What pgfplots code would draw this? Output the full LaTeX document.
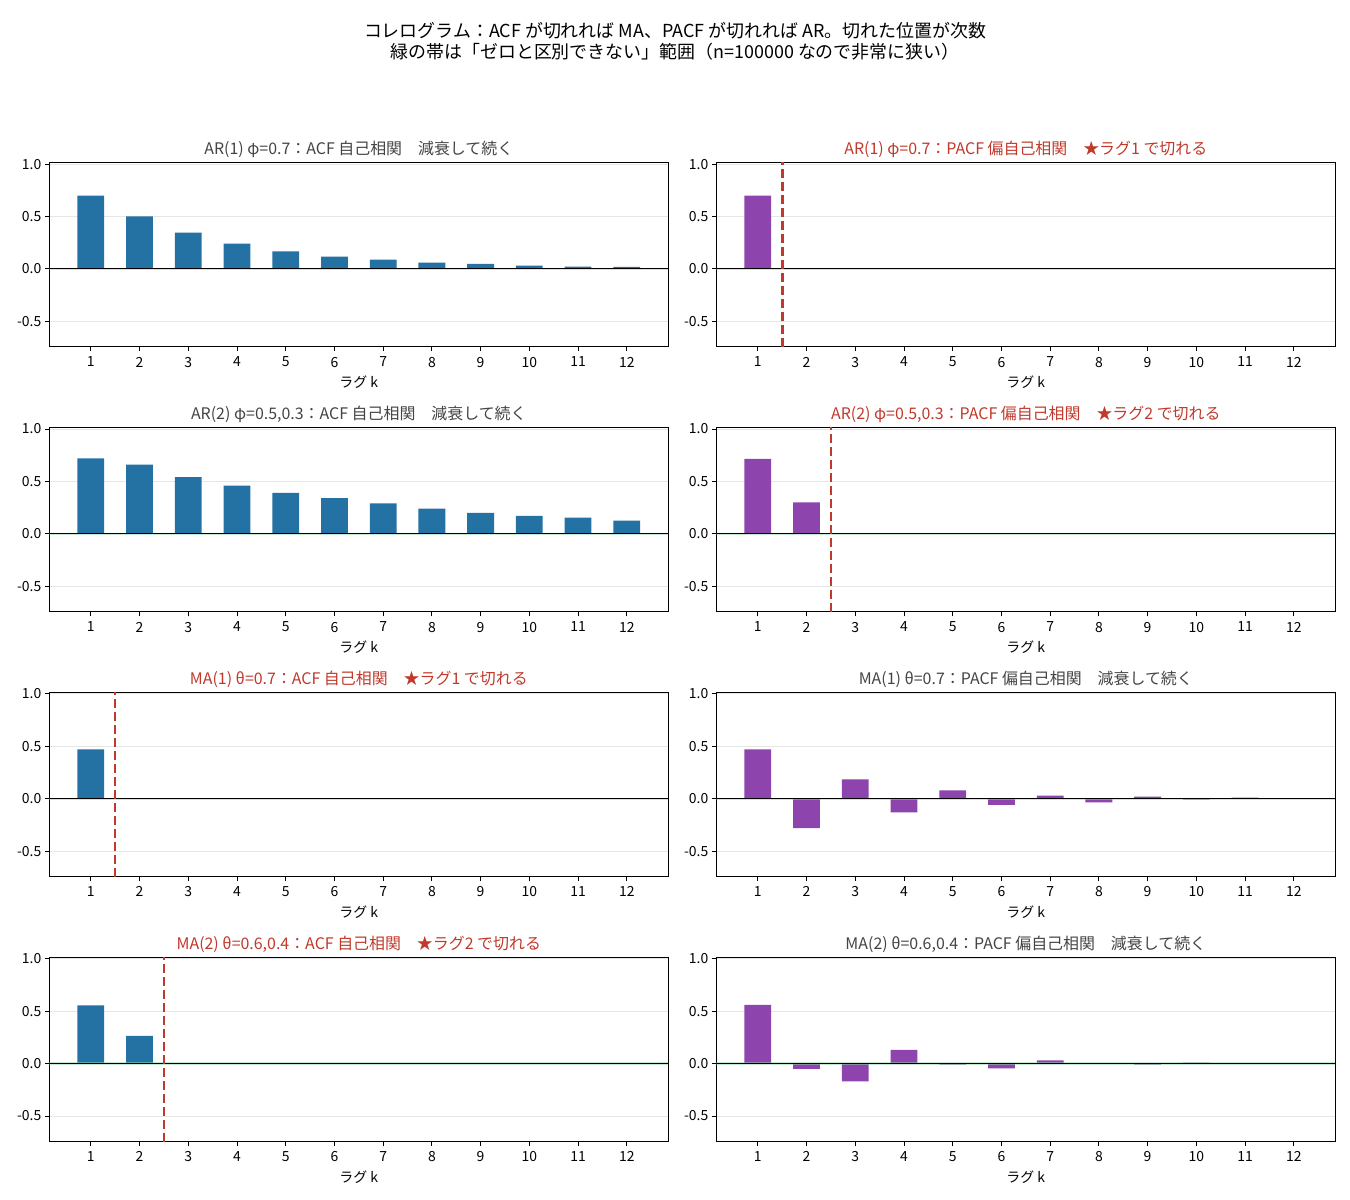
\documentclass[border=0pt]{standalone}
\usepackage{fontspec}
\setmainfont{Noto Sans CJK JP}
\usepackage{pgfplots}
\pgfplotsset{compat=1.18}
\definecolor{acfblue}{HTML}{2471A3}
\definecolor{pacfpurple}{HTML}{8E44AD}
\definecolor{cutred}{HTML}{C0392B}
\definecolor{titlegray}{HTML}{444444}
\definecolor{bandgreen}{HTML}{8FD3A8}
\definecolor{gridgray}{HTML}{E6E6E6}

\pgfplotsset{
  panel/.style={
    scale only axis, width=619bp, height=184.5bp, anchor=south west,
    xmin=0.1475, xmax=12.8525, ymin=-0.745, ymax=1.015,
    xtick={1,...,12}, ytick={-0.5,0,0.5,1},
    yticklabels={-0.5,0.0,0.5,1.0},
    ymajorgrids, grid style={draw=gridgray, line width=0.8bp},
    tick label style={font=\fontsize{14}{16}\selectfont, text=black},
    xticklabel style={yshift=-2bp},
    /pgf/number format/assume math mode=true,
    axis line style={line width=1bp},
    tick style={black, line width=0.8bp},
    major tick length=4.5bp, tick align=outside,
    xtick pos=bottom, ytick pos=left,
    xlabel={ラグ k},
    xlabel style={font=\fontsize{14}{16}\selectfont, at={(axis description cs:0.5,0)}, anchor=base, yshift=-41bp},
    title style={font=\fontsize{16}{19}\selectfont, at={(axis description cs:0.5,1)}, anchor=base, yshift=2bp},
  },
  bars/.style={ybar, bar width=0.55, bar shift=0pt, draw=none, fill=#1},
  band/.style={draw=none, fill=bandgreen, fill opacity=0.5, forget plot},
  zero/.style={black, line width=1.1bp, forget plot},
  cut/.style={cutred, line width=2.6bp, dash pattern=on 9bp off 4bp},
}

\newcommand{\bandzero}{%
  \addplot[band] coordinates {(0.1475,-0.011) (12.8525,-0.011) (12.8525,0.011) (0.1475,0.011)} -- cycle;
  \addplot[zero] coordinates {(0.1475,0) (12.8525,0)};
}

\begin{document}
\begin{tikzpicture}
\path (0bp,0bp) rectangle (1350bp,1200bp);
\node[font=\fontsize{18}{21}\selectfont, align=center, text=black] at (675bp,1158.5bp)
  {コレログラム：ACF が切れれば MA、PACF が切れれば AR。切れた位置が次数\\
   緑の帯は「ゼロと区別できない」範囲（n=100000 なので非常に狭い）};

% Row 1 left: AR(1) ACF
\begin{axis}[panel, at={(49.3bp,853bp)}, title style={text=titlegray},
  title={AR(1) φ=0.7：ACF 自己相関　減衰して続く}]
  \addplot[bars=acfblue] coordinates {(1,0.70) (2,0.50) (3,0.347) (4,0.242) (5,0.168) (6,0.118) (7,0.088) (8,0.06) (9,0.048) (10,0.03) (11,0.021) (12,0.02)};
  \bandzero
\end{axis}
% Row 1 right: AR(1) PACF
\begin{axis}[panel, at={(716.3bp,853bp)}, title style={text=cutred},
  title={AR(1) φ=0.7：PACF 偏自己相関　★ラグ1 で切れる}]
  \addplot[bars=pacfpurple] coordinates {(1,0.70) (2,0.001) (3,-0.001) (4,0.001) (5,0.005) (6,0.001) (7,-0.001) (8,0.001) (9,0.001) (10,-0.001) (11,0.001) (12,0.005)};
  \bandzero
  \addplot[cut] coordinates {(1.5,-0.745) (1.5,1.015)};
\end{axis}

% Row 2 left: AR(2) ACF
\begin{axis}[panel, at={(49.3bp,588.1bp)}, title style={text=titlegray},
  title={AR(2) φ=0.5,0.3：ACF 自己相関　減衰して続く}]
  \addplot[bars=acfblue] coordinates {(1,0.72) (2,0.66) (3,0.54) (4,0.46) (5,0.39) (6,0.34) (7,0.29) (8,0.24) (9,0.20) (10,0.17) (11,0.155) (12,0.125)};
  \bandzero
\end{axis}
% Row 2 right: AR(2) PACF
\begin{axis}[panel, at={(716.3bp,588.1bp)}, title style={text=cutred},
  title={AR(2) φ=0.5,0.3：PACF 偏自己相関　★ラグ2 で切れる}]
  \addplot[bars=pacfpurple] coordinates {(1,0.715) (2,0.30) (3,0.001) (4,-0.001) (5,0.005) (6,0.001) (7,0.001) (8,-0.001) (9,0.001) (10,0.001) (11,0.005) (12,0.001)};
  \bandzero
  \addplot[cut] coordinates {(2.5,-0.745) (2.5,1.015)};
\end{axis}

% Row 3 left: MA(1) ACF
\begin{axis}[panel, at={(49.3bp,323.2bp)}, title style={text=cutred},
  title={MA(1) θ=0.7：ACF 自己相関　★ラグ1 で切れる}]
  \addplot[bars=acfblue] coordinates {(1,0.47) (2,0.001) (3,0.001) (4,-0.001) (5,0.001) (6,0.001) (7,-0.001) (8,0.001) (9,0.001) (10,0.001) (11,-0.001) (12,0.001)};
  \bandzero
  \addplot[cut] coordinates {(1.5,-0.745) (1.5,1.015)};
\end{axis}
% Row 3 right: MA(1) PACF
\begin{axis}[panel, at={(716.3bp,323.2bp)}, title style={text=titlegray},
  title={MA(1) θ=0.7：PACF 偏自己相関　減衰して続く}]
  \addplot[bars=pacfpurple] coordinates {(1,0.47) (2,-0.28) (3,0.185) (4,-0.13) (5,0.08) (6,-0.06) (7,0.03) (8,-0.035) (9,0.02) (10,-0.01) (11,0.01) (12,0.002)};
  \bandzero
\end{axis}

% Row 4 left: MA(2) ACF
\begin{axis}[panel, at={(49.3bp,58.3bp)}, title style={text=cutred},
  title={MA(2) θ=0.6,0.4：ACF 自己相関　★ラグ2 で切れる}]
  \addplot[bars=acfblue] coordinates {(1,0.555) (2,0.265) (3,0.001) (4,0.001) (5,-0.001) (6,0.001) (7,0.001) (8,0.001) (9,-0.001) (10,0.001) (11,0.001) (12,0.001)};
  \bandzero
  \addplot[cut] coordinates {(2.5,-0.745) (2.5,1.015)};
\end{axis}
% Row 4 right: MA(2) PACF
\begin{axis}[panel, at={(716.3bp,58.3bp)}, title style={text=titlegray},
  title={MA(2) θ=0.6,0.4：PACF 偏自己相関　減衰して続く}]
  \addplot[bars=pacfpurple] coordinates {(1,0.56) (2,-0.05) (3,-0.17) (4,0.13) (5,-0.01) (6,-0.045) (7,0.03) (8,0.001) (9,-0.01) (10,0.01) (11,0.001) (12,0.001)};
  \bandzero
\end{axis}
\end{tikzpicture}
\end{document}
